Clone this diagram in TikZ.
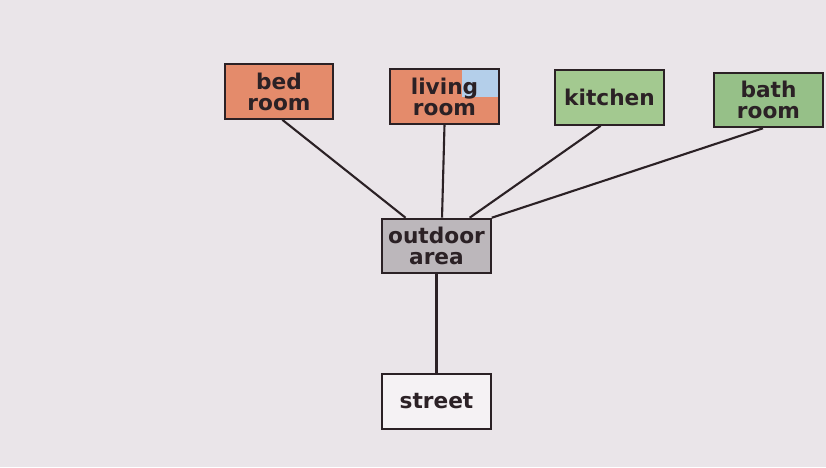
\documentclass[tikz,border=0pt]{standalone}
\usepackage{fontspec}
\setmainfont{DejaVu Sans}
\usetikzlibrary{calc}
\definecolor{paper}{HTML}{EAE5E9}
\definecolor{ink}{HTML}{2B2125}
\definecolor{roomred}{HTML}{E48B6B}
\definecolor{roomgreen}{HTML}{A3C990}
\definecolor{bathgreen}{HTML}{96C088}
\definecolor{yardgrey}{HTML}{BCB7BB}
\definecolor{skyblue}{HTML}{B4CFEA}
\definecolor{streetwhite}{HTML}{F5F2F4}
\begin{document}
\begin{tikzpicture}[
    x=0.03cm, y=-0.03cm,
    font=\bfseries\fontsize{18.5}{18}\selectfont,
    zone/.style={
        draw=ink,
        text=ink,
        line width=1.9pt,
        minimum width=3.25cm,
        minimum height=1.63cm,
        align=center,
        inner sep=1pt
    },
    link/.style={
        draw=ink,
        line width=1.8pt
    }
]
    \fill[paper] (0,0) rectangle (826,467);
    \useasboundingbox (0,0) rectangle (826,467);

    \node[zone, fill=roomred] (bedroom) at (279,91.5) {bed\\room};
    \node[zone, fill=roomred,
        path picture={\fill[skyblue] (path picture bounding box.north east)
            rectangle ($(path picture bounding box.east)+(-1.1cm,0)$);}]
        (livingroom) at (444.5,96.5) {living\\room};
    \node[zone, fill=roomgreen] (kitchen) at (609.5,97.5) {kitchen};
    \node[zone, fill=bathgreen] (bathroom) at (768.5,100) {bath\\room};
    \node[zone, fill=yardgrey] (outdoor) at (436.5,246) {outdoor\\area};
    \node[zone, fill=streetwhite] (street) at (436.5,401.5) {street};

    \draw[link] ($(bedroom.south west)!0.53!(bedroom.south east)$) --
        ($(outdoor.north west)!0.22!(outdoor.north east)$);
    \draw[link] (livingroom.south) --
        ($(outdoor.north west)!0.55!(outdoor.north east)$);
    \draw[link] ($(kitchen.south west)!0.42!(kitchen.south east)$) --
        ($(outdoor.north west)!0.8!(outdoor.north east)$);
    \draw[link] ($(bathroom.south west)!0.45!(bathroom.south east)$) --
        (outdoor.north east);
    \draw[link] (outdoor.south) -- (street.north);
\end{tikzpicture}
\end{document}
